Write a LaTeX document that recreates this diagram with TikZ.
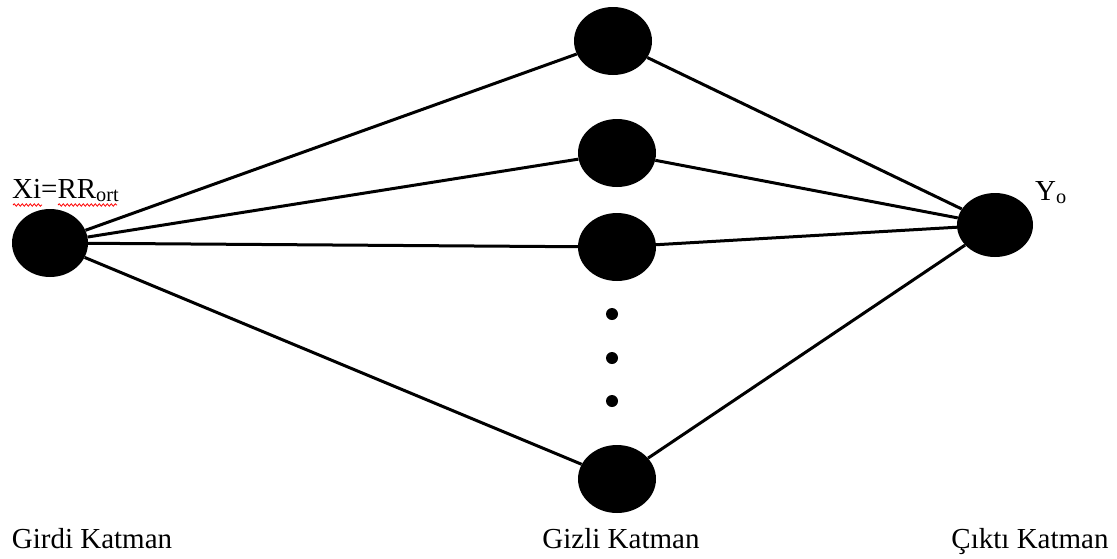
\documentclass[tikz,border=0pt]{standalone}
\usepackage{fontspec}
\setmainfont{Liberation Serif}
\usetikzlibrary{shapes.geometric,decorations.pathmorphing}
\begin{document}
\begin{tikzpicture}[x=1pt,y=-1pt,
  neuron/.style={ellipse,fill=black,draw=none,inner sep=0pt,minimum width=78pt,minimum height=68pt},
  dotmark/.style={circle,fill=black,inner sep=0pt,minimum size=12pt},
  link/.style={line width=3pt},
  lbl/.style={font=\fontsize{29}{34}\selectfont,inner sep=0pt},
  spell/.style={red,line width=0.8pt,decorate,decoration={snake,amplitude=1.2pt,segment length=4pt}}]
\useasboundingbox (0,0) rectangle (1117,558);

% layers
\node[neuron,minimum width=76pt] (in) at (50,243) {};
\node[neuron] (h1) at (613,41) {};
\node[neuron] (h2) at (617,153) {};
\node[neuron] (h3) at (617,247) {};
\node[neuron] (h4) at (617,479) {};
\node[neuron,minimum width=76pt,minimum height=64pt] (out) at (995,225) {};

% ellipsis between hidden units
\node[dotmark] (d1) at (612,314) {};
\node[dotmark] (d2) at (612,358) {};
\node[dotmark] (d3) at (612,401) {};

% connections
\foreach \h in {h1,h2,h3,h4} {
  \draw[link] (in) -- (\h);
  \draw[link] (\h) -- (out);
}

% labels
\node[lbl,anchor=base west] (xin) at (12,198) {Xi=RR\textsubscript{ort}};
\node[lbl,anchor=base west] (yout) at (1035,200) {Y\textsubscript{o}};
\draw[spell] (13,205) -- (42,205);
\draw[spell] (58,205) -- (117,205);

\node[lbl,anchor=base] (l1) at (92,548) {Girdi Katman};
\node[lbl,anchor=base] (l2) at (621,548) {Gizli Katman};
\node[lbl,anchor=base] (l3) at (1030,548) {Çıktı Katman};
\end{tikzpicture}
\end{document}
